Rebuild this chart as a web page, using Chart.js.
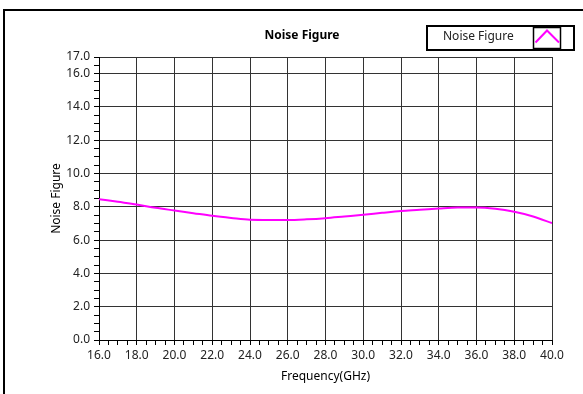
<!DOCTYPE html>
<html>
<head>
<meta charset="utf-8">
<script src="https://cdn.jsdelivr.net/npm/chart.js@4/dist/chart.umd.min.js"></script>
<style>
  html, body { margin: 0; padding: 0; background: #fff; overflow: hidden; }
  #wrap { position: relative; width: 583px; height: 394px; }
  #frame { position: absolute; left: 3px; top: 9px; width: 700px; height: 500px;
           border-top: 2px solid #000; border-left: 2px solid #000; pointer-events: none; }
  canvas { position: absolute; left: 0; top: 0; }
</style>
</head>
<body>
<div id="wrap">
  <canvas id="c" width="583" height="394"></canvas>
  <div id="frame"></div>
</div>
<script>
// Frequency sweep (GHz) and measured noise figure (dB)
const freqGHz = [16, 17, 18, 19, 20, 21, 22, 23, 24, 25, 26, 27, 28,
                 29, 30, 31, 32, 33, 34, 35, 36, 37, 38, 39, 40];
const noiseFigure = [8.46, 8.30, 8.14, 7.94, 7.78, 7.62, 7.46, 7.33, 7.22, 7.21, 7.21, 7.25, 7.32,
                     7.42, 7.52, 7.64, 7.75, 7.82, 7.90, 7.96, 7.96, 7.88, 7.70, 7.42, 7.02];
const seriesName = 'Noise Figure';
const chartTitle = 'Noise Figure';
const xTitle = 'Frequency(GHz)';
const yTitle = 'Noise Figure';
const xRange = [16, 40];
const yRange = [0, 17];

const FONT = '"Noto Sans", "Open Sans", sans-serif';
const isMajorX = v => Math.abs(v / 2 - Math.round(v / 2)) < 1e-6;
const isMajorY = v => isMajorX(v) || Math.abs(v - yRange[1]) < 1e-6;

// Title and boxed legend drawn on the canvas
const decorations = {
  id: 'decorations',
  afterDraw(chart) {
    const ctx = chart.ctx;
    ctx.save();
    ctx.fillStyle = '#000';
    ctx.font = 'bold 12px ' + FONT;
    ctx.textAlign = 'center';
    ctx.textBaseline = 'middle';
    ctx.fillText(chartTitle, 302, 36);

    const ds = chart.data.datasets[0];
    ctx.lineWidth = 2;
    ctx.strokeStyle = '#000';
    ctx.strokeRect(427, 26, 147, 24);
    ctx.lineWidth = 1.5;
    ctx.strokeRect(533.5, 27.5, 27, 21);
    ctx.font = '12px ' + FONT;
    ctx.fillStyle = '#222';
    ctx.textAlign = 'left';
    ctx.fillText(ds.label, 443, 37);
    ctx.strokeStyle = ds.borderColor;
    ctx.lineWidth = 2;
    ctx.beginPath();
    ctx.moveTo(535.5, 42.5);
    ctx.lineTo(547, 30.5);
    ctx.lineTo(559, 42.5);
    ctx.stroke();
    ctx.restore();
  }
};

new Chart(document.getElementById('c'), {
  type: 'line',
  data: {
    datasets: [{
      label: seriesName,
      data: freqGHz.map((f, i) => ({ x: f, y: noiseFigure[i] })),
      borderColor: '#ff00ff',
      borderWidth: 2,
      pointRadius: 0,
      tension: 0.4,
      cubicInterpolationMode: 'monotone',
      fill: false
    }]
  },
  options: {
    responsive: false,
    animation: false,
    layout: { padding: { left: 40, right: 31, top: 57, bottom: 0 } },
    plugins: {
      legend: { display: false },
      title: { display: false },
      tooltip: { enabled: false }
    },
    scales: {
      x: {
        type: 'linear',
        min: xRange[0], max: xRange[1],
        afterFit(s) { s.height = 54; },
        border: { color: '#000', width: 1 },
        grid: {
          color: c => isMajorX(c.tick.value) ? '#333' : 'rgba(0,0,0,0)',
          tickColor: '#000',
          tickLength: 5,
          lineWidth: 1
        },
        ticks: {
          stepSize: 0.5,
          maxTicksLimit: 200,
          autoSkip: false,
          maxRotation: 0,
          padding: 3,
          color: '#222',
          font: { family: FONT, size: 12 },
          callback: v => isMajorX(v) ? v.toFixed(1) : ''
        },
        title: {
          display: true, text: xTitle, color: '#000',
          font: { family: FONT, size: 12 },
          padding: { top: 0, bottom: 10 }
        }
      },
      y: {
        type: 'linear',
        min: yRange[0], max: yRange[1],
        afterFit(s) { s.width = 59; },
        border: { color: '#000', width: 1 },
        grid: {
          color: c => isMajorY(c.tick.value) ? '#333' : 'rgba(0,0,0,0)',
          tickColor: '#000',
          tickLength: 5,
          lineWidth: 1
        },
        ticks: {
          stepSize: 0.5,
          maxTicksLimit: 200,
          autoSkip: false,
          padding: 4,
          color: '#222',
          font: { family: FONT, size: 12 },
          callback: v => isMajorY(v) ? v.toFixed(1) : ''
        },
        title: {
          display: true, text: yTitle, color: '#000',
          font: { family: FONT, size: 12 },
          padding: { top: 9, bottom: 0 }
        }
      }
    }
  },
  plugins: [decorations]
});
</script>
</body>
</html>
